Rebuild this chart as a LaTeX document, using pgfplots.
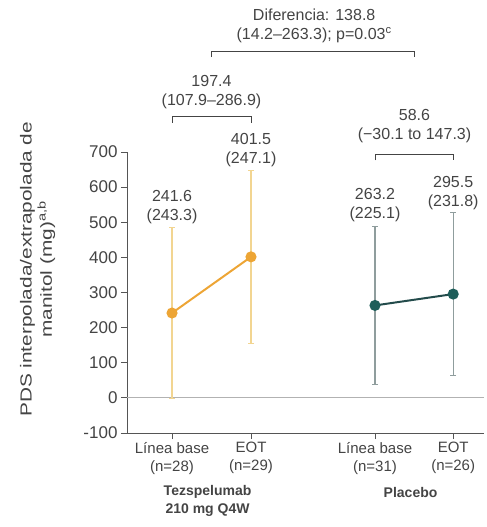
\documentclass[border=0pt]{standalone}
\usepackage{graphicx}
\usepackage{pgfplots}
\pgfplotsset{compat=1.18}
\usepackage{fontspec}
\setmainfont{Liberation Sans}
\definecolor{tezline}{HTML}{EDA535}
\definecolor{tezerr}{HTML}{F2D591}
\definecolor{plamark}{HTML}{1E5E5A}
\definecolor{plaline}{HTML}{234B4B}
\definecolor{plaerr}{HTML}{8F9D9D}
\definecolor{axgray}{HTML}{555555}
\definecolor{txtgray}{HTML}{444444}
\begin{document}
\begin{tikzpicture}
\useasboundingbox (-127bp,-94bp) rectangle (360bp,433bp);
\begin{axis}[at={(0,0)}, anchor=south west, scale only axis,
  width=357bp, height=281bp,
  xmin=0.43, xmax=4.95, ymin=-100, ymax=700,
  axis lines=left, axis line style={-, axgray, line width=0.9pt},
  ytick={-100,0,100,200,300,400,500,600,700},
  xtick={1,2,3.57,4.56},
  xticklabels={Línea base\\(n=28), EOT\\(n=29), Línea base\\(n=31), EOT\\(n=26)},
  xticklabel style={align=center, font=\fontsize{15bp}{18bp}\selectfont, text=txtgray},
  yticklabel style={font=\fontsize{17bp}{20bp}\selectfont, text=txtgray},
  /pgf/number format/assume math mode=true,
  tick align=outside, major tick length=6bp,
  tick style={axgray, line width=0.9pt},
  clip=false,
]
% zero line
\draw[gray!60, line width=0.9pt] (axis cs:0.43,0) -- (axis cs:4.95,0);
% error bars
\addplot[draw=none, mark=none, forget plot,
  error bars/.cd, y dir=both, y explicit,
  error bar style={tezerr, line width=1.1pt},
  error mark options={tezerr, rotate=90, mark size=3bp, line width=1pt}]
  coordinates {(1,241.6) +- (0,243.3) (2,401.5) +- (0,247.1)};
\addplot[draw=none, mark=none, forget plot,
  error bars/.cd, y dir=both, y explicit,
  error bar style={plaerr, line width=1.1pt},
  error mark options={plaerr, rotate=90, mark size=3bp, line width=1pt}]
  coordinates {(3.57,263.2) +- (0,225.1) (4.56,295.5) +- (0,231.8)};
% means
\addplot[tezline, line width=2pt, mark=*, mark size=4.5bp, mark options={fill=tezline, draw=tezline}]
  coordinates {(1,241.6) (2,401.5)};
\addplot[plaline, line width=2pt, mark=*, mark size=4.5bp, mark options={fill=plamark, draw=plamark}]
  coordinates {(3.57,263.2) (4.56,295.5)};
% value labels
\begin{scope}[every node/.style={align=center, text=txtgray, font=\fontsize{16bp}{19bp}\selectfont}]
\node at (axis cs:1,544) {241.6\\(243.3)};
\node at (axis cs:2,706) {401.5\\(247.1)};
\node at (axis cs:3.57,548) {263.2\\(225.1)};
\node at (axis cs:4.56,584) {295.5\\(231.8)};
\node at (axis cs:1.5,872) {197.4\\(107.9–286.9)};
\node at (axis cs:4.07,774) {58.6\\(−30.1 to 147.3)};
\node at (axis cs:2.80,1058) {Diferencia: 138.8\\(14.2–263.3); p=0.03\textsuperscript{c}};
\end{scope}
% brackets
\draw[txtgray, line width=0.9pt] (axis cs:1,784) -- (axis cs:1,801) -- (axis cs:2,801) -- (axis cs:2,784);
\draw[txtgray, line width=0.9pt] (axis cs:3.57,676) -- (axis cs:3.57,693) -- (axis cs:4.56,693) -- (axis cs:4.56,676);
\draw[txtgray, line width=0.9pt] (axis cs:1.5,970) -- (axis cs:1.5,986) -- (axis cs:4.07,986) -- (axis cs:4.07,970);
% group labels
\node[align=center, text=txtgray, font=\fontsize{14bp}{18bp}\selectfont\bfseries] at (axis cs:1.45,-294) {Tezspelumab\\210 mg Q4W};
\node[text=txtgray, font=\fontsize{14bp}{18bp}\selectfont\bfseries] at (axis cs:4.02,-270) {Placebo};
% y label
\node[rotate=90, text=txtgray, inner sep=0pt] at (axis cs:-0.70,366) {\scalebox{1.3}[1]{\fontsize{16bp}{20bp}\selectfont\begin{tabular}{@{}c@{}}PDS interpolada/extrapolada de\\manitol (mg)\textsuperscript{a,b}\end{tabular}}};
\end{axis}
\end{tikzpicture}
\end{document}
